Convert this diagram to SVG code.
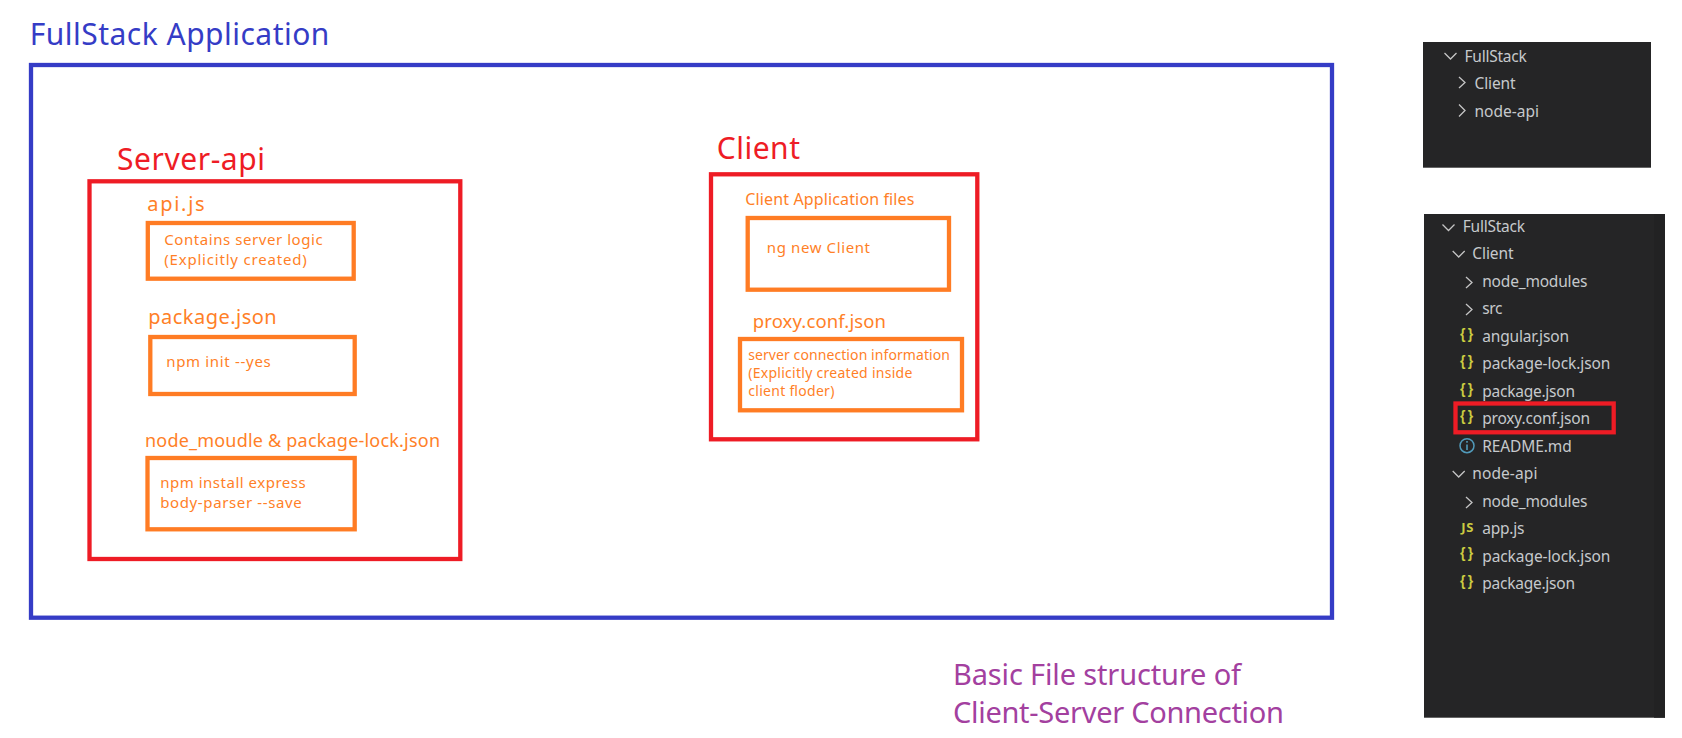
<svg xmlns="http://www.w3.org/2000/svg" width="1682" height="738" viewBox="0 0 1682 738">
<style>
text{font-family:"Noto Sans","Open Sans","Liberation Sans",sans-serif}
.box{fill:none}
.blue{stroke:#353cc6;stroke-width:4.300}
.red{stroke:#ee1c25;stroke-width:4.300}
.org{stroke:#ff7c24;stroke-width:4.300}
.o{fill:#ff7f27}
.r{fill:#ee1c25}
.h{font-size:30px}
.t1{font-size:20px}
.t2{font-size:15px}
.t3{font-size:14px}
.p{font-size:29px;fill:#a3409f}
.tr{fill:#c6c9cc;font-size:15.500px}
.ch{fill:none;stroke:#c5c5c5;stroke-width:1.300}
.br{fill:#cbcb41;font-size:14px;font-weight:700;letter-spacing:2.400px;font-family:"Liberation Sans",sans-serif}
</style>
<rect width="1682" height="738" fill="#fff"/>
<g id="fullstack">
<rect class="box blue" x="31" y="65" width="1301" height="552.700"/>
<text class="h" x="29.700" y="45" fill="#353cc6" textLength="299.700">FullStack Application</text>
</g>
<g id="server-api">
<rect class="box red" x="89.500" y="181.300" width="370.800" height="377.700"/>
<text class="r h" x="117" y="170" textLength="148">Server-api</text>
</g>
<g id="api-js">
<text class="o t1" x="147.200" y="210.700" textLength="57.500">api.js</text>
<rect class="box org" x="147.800" y="223" width="205.900" height="55.700"/>
<text class="o t2" x="164.200" y="245" textLength="158.500">Contains server logic</text>
<text class="o t2" x="164.200" y="265" textLength="142.500">(Explicitly created)</text>
</g>
<g id="package-json">
<text class="o t1" x="148.200" y="324" textLength="128.500">package.json</text>
<rect class="box org" x="150.300" y="337" width="204.400" height="57"/>
<text class="o t2" x="166.200" y="366.700" textLength="104.500">npm init --yes</text>
</g>
<g id="node-moudle">
<text class="o" x="145" y="447.300" font-size="18" textLength="295">node_moudle &amp; package-lock.json</text>
<rect class="box org" x="147.500" y="458" width="207.200" height="71.300"/>
<text class="o t2" x="160.200" y="488" textLength="145.500">npm install express</text>
<text class="o t2" x="160.200" y="508.300" textLength="141.500">body-parser --save</text>
</g>
<g id="client">
<rect class="box red" x="711" y="174.300" width="266.300" height="265"/>
<text class="r h" x="716.700" y="159" textLength="83.300">Client</text>
</g>
<g id="client-files">
<text class="o" x="745.200" y="205" font-size="16" textLength="169.200">Client Application files</text>
<rect class="box org" x="747.700" y="218" width="201.300" height="71.700"/>
<text class="o t2" x="766.800" y="252.700" textLength="103.200">ng new Client</text>
</g>
<g id="proxy-conf">
<text class="o" x="752.800" y="328.300" font-size="18.500" textLength="133.200">proxy.conf.json</text>
<rect class="box org" x="740" y="339" width="222" height="71.300"/>
<text class="o t3" x="748.200" y="360" textLength="201.800">server connection information</text>
<text class="o t3" x="748.200" y="377.700" textLength="164.200">(Explicitly created inside</text>
<text class="o t3" x="748.200" y="395.700" textLength="86.200">client floder)</text>
</g>
<g id="caption">
<text class="p" x="953" y="685" textLength="288">Basic File structure of</text>
<text class="p" x="953" y="722.700" textLength="331">Client-Server Connection</text>
</g>
<g id="tree-collapsed">
<rect x="1423" y="42" width="228" height="125.700" fill="#252526"/>
<path class="ch" d="M1444.500 53l6 6 6-6M1459 77l6 5.500-6 5.500M1459 104.500l6 6-6 6"/>
<text class="tr" x="1464.500" y="61.700" textLength="62.200">FullStack</text>
<text class="tr" x="1474.500" y="89" textLength="41.200">Client</text>
<text class="tr" x="1474.500" y="116.700" textLength="64.500">node-api</text>
</g>
<g id="tree-expanded">
<rect x="1424" y="214" width="241" height="503.700" fill="#252526"/>
<rect x="1654" y="214" width="11" height="503.700" fill="#222223"/>
<path class="ch" d="M1442.500 224.500l6 6 6-6M1452.700 251l6 6 6-6M1466 277l6 5.500-6 5.500M1466 304l6 5.500-6 5.500M1452.700 471l6 6 6-6M1466 497l6 5.500-6 5.500"/>
<text class="tr" x="1462.800" y="231.700" textLength="62.200">FullStack</text>
<text class="tr" x="1472.200" y="259" textLength="41.500">Client</text>
<text class="tr" x="1482.200" y="286.700" textLength="105.200">node_modules</text>
<text class="tr" x="1482.200" y="314" textLength="20.200">src</text>
<text class="tr" x="1482.200" y="341.700" textLength="86.800">angular.json</text>
<text class="tr" x="1482.200" y="369" textLength="128.200">package-lock.json</text>
<text class="tr" x="1482.200" y="396.700" textLength="92.800">package.json</text>
<text class="tr" x="1482.200" y="424" textLength="107.800">proxy.conf.json</text>
<text class="tr" x="1482.200" y="451.700" textLength="89.500">README.md</text>
<text class="tr" x="1472.200" y="479" textLength="65.200">node-api</text>
<text class="tr" x="1482.200" y="506.700" textLength="105.200">node_modules</text>
<text class="tr" x="1482.200" y="534" textLength="42.200">app.js</text>
<text class="tr" x="1482.200" y="561.700" textLength="128.200">package-lock.json</text>
<text class="tr" x="1482.200" y="589" textLength="92.800">package.json</text>
<text class="br" x="1460" y="339">{}</text>
<text class="br" x="1460" y="366.300">{}</text>
<text class="br" x="1460" y="394">{}</text>
<text class="br" x="1460" y="420.600">{}</text>
<text class="br" x="1460" y="558.300">{}</text>
<text class="br" x="1460" y="585.500">{}</text>
<text x="1461.300" y="531.700" font-size="13" font-weight="700" fill="#cbcb41" textLength="12">JS</text>
<circle cx="1467" cy="445.700" r="7" fill="none" stroke="#519aba" stroke-width="1.500"/>
<path d="M1467 444.500v5.500M1467 441v1.700" stroke="#519aba" stroke-width="1.600" fill="none"/>
<rect class="box red" x="1455.500" y="403.500" width="158.200" height="28.800"/>
</g>
</svg>
